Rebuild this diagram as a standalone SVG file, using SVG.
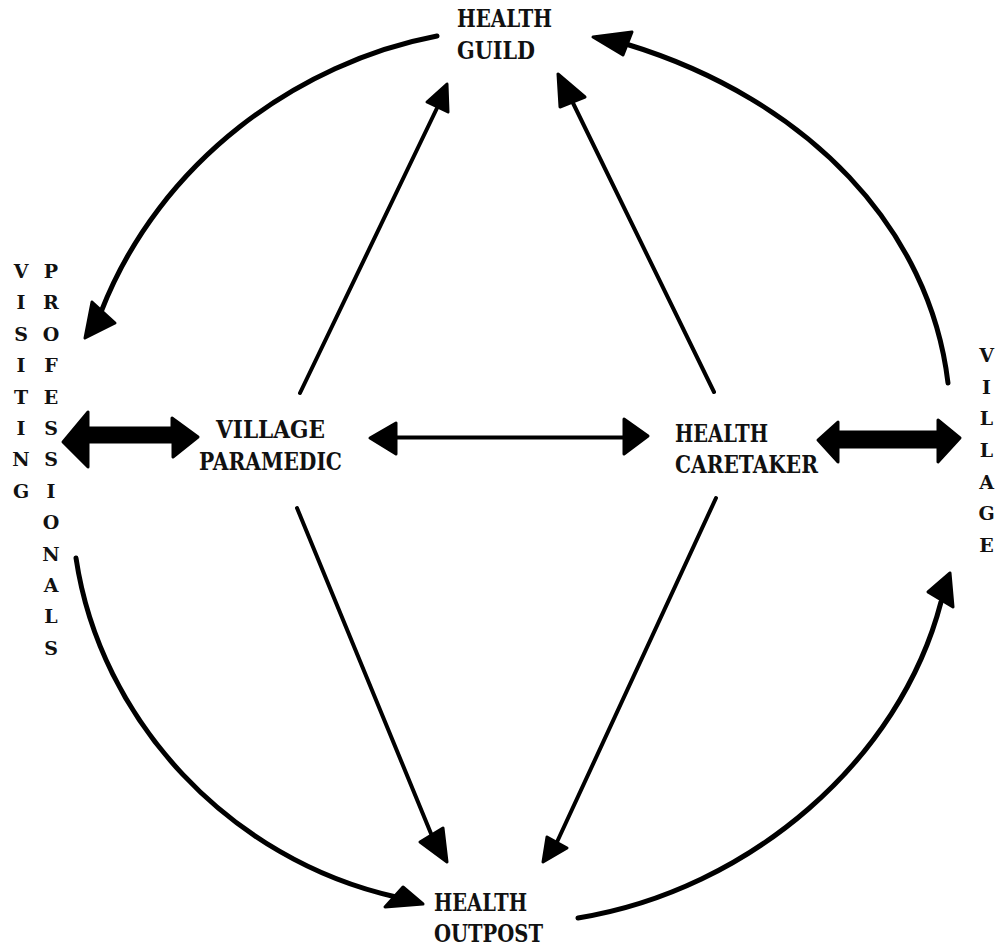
<svg xmlns="http://www.w3.org/2000/svg" width="995" height="947" viewBox="0 0 995 947">
<style>
.lbl{font-family:"DejaVu Serif","Liberation Serif",serif;font-weight:bold;font-size:24px;fill:#111}
.col{font-family:"DejaVu Serif","Liberation Serif",serif;font-weight:bold;font-size:19px;fill:#111;text-anchor:middle}
.ln{fill:none;stroke:#000;stroke-width:4;stroke-linecap:round}
.cv{fill:none;stroke:#000;stroke-width:5;stroke-linecap:round}
.head{fill:#000;stroke:#000;stroke-width:3;stroke-linejoin:round}
</style>
<rect width="995" height="947" fill="#fff"/>
<g id="connectors">
  <path class="cv" d="M437,36 C300,62 160,160 101,312"/>
  <polygon class="head" points="85,338 92,302 115,323"/>
  <path class="cv" d="M948,383 C930,230 810,100 626,44"/>
  <polygon class="head" points="593,37 632,32 623,55"/>
  <path class="ln" d="M300,393 L438,106"/>
  <polygon class="head" points="447,84 427,102 448,112"/>
  <path class="ln" d="M714,392 L572,101"/>
  <polygon class="head" points="558,74 560,107 585,97"/>
  <polygon class="head" points="63,442 88,412 88,428 172,428 172,418 198,437 173,457 173,442 88,442 88,467"/>
  <path class="ln" d="M393,437.5 L627,437.5"/>
  <polygon class="head" points="370,438 396,423 396,454"/>
  <polygon class="head" points="648,436 624,419 624,454"/>
  <polygon class="head" points="818,440 838,422 838,432 938,432 938,420 960,438 938,462 938,447 838,447 838,462"/>
  <path class="ln" d="M297,508 L432,836"/>
  <polygon class="head" points="447,862 420,842 443,828"/>
  <path class="ln" d="M716,498 L557,842"/>
  <polygon class="head" points="543,862 547,837 567,848"/>
  <path class="cv" d="M76,558 C100,720 230,860 396,897"/>
  <polygon class="head" points="423,904 403,887 385,907"/>
  <path class="cv" d="M578,918 C750,890 900,760 941,602"/>
  <polygon class="head" points="950,573 928,592 953,607"/>
</g>
<g id="health-guild">
  <text class="lbl" x="457" y="27" textLength="95" lengthAdjust="spacingAndGlyphs">HEALTH</text>
  <text class="lbl" x="457" y="59" textLength="78" lengthAdjust="spacingAndGlyphs">GUILD</text>
</g>
<g id="village-paramedic">
  <text class="lbl" x="216" y="438" textLength="109" lengthAdjust="spacingAndGlyphs">VILLAGE</text>
  <text class="lbl" x="199" y="470" textLength="143" lengthAdjust="spacingAndGlyphs">PARAMEDIC</text>
</g>
<g id="health-caretaker">
  <text class="lbl" x="675" y="442" textLength="93" lengthAdjust="spacingAndGlyphs">HEALTH</text>
  <text class="lbl" x="675" y="473" textLength="143" lengthAdjust="spacingAndGlyphs">CARETAKER</text>
</g>
<g id="health-outpost">
  <text class="lbl" x="434" y="911" textLength="93" lengthAdjust="spacingAndGlyphs">HEALTH</text>
  <text class="lbl" x="434" y="942" textLength="109" lengthAdjust="spacingAndGlyphs">OUTPOST</text>
</g>
<g id="visiting-professionals">
  <text class="col" x="21" y="278">V</text>
  <text class="col" x="21" y="309.4">I</text>
  <text class="col" x="21" y="340.8">S</text>
  <text class="col" x="21" y="372.2">I</text>
  <text class="col" x="21" y="403.6">T</text>
  <text class="col" x="21" y="435">I</text>
  <text class="col" x="21" y="466.4">N</text>
  <text class="col" x="21" y="497.8">G</text>
  <text class="col" x="51" y="278">P</text>
  <text class="col" x="51" y="309.4">R</text>
  <text class="col" x="51" y="340.8">O</text>
  <text class="col" x="51" y="372.2">F</text>
  <text class="col" x="51" y="403.6">E</text>
  <text class="col" x="51" y="435">S</text>
  <text class="col" x="51" y="466.4">S</text>
  <text class="col" x="51" y="497.8">I</text>
  <text class="col" x="51" y="529.2">O</text>
  <text class="col" x="51" y="560.6">N</text>
  <text class="col" x="51" y="592">A</text>
  <text class="col" x="51" y="623.4">L</text>
  <text class="col" x="51" y="654.8">S</text>
</g>
<g id="village">
  <text class="col" x="986.5" y="362">V</text>
  <text class="col" x="986.5" y="393.7">I</text>
  <text class="col" x="986.5" y="425.3">L</text>
  <text class="col" x="986.5" y="457">L</text>
  <text class="col" x="986.5" y="488.7">A</text>
  <text class="col" x="986.5" y="520.3">G</text>
  <text class="col" x="986.5" y="552">E</text>
</g>
</svg>
